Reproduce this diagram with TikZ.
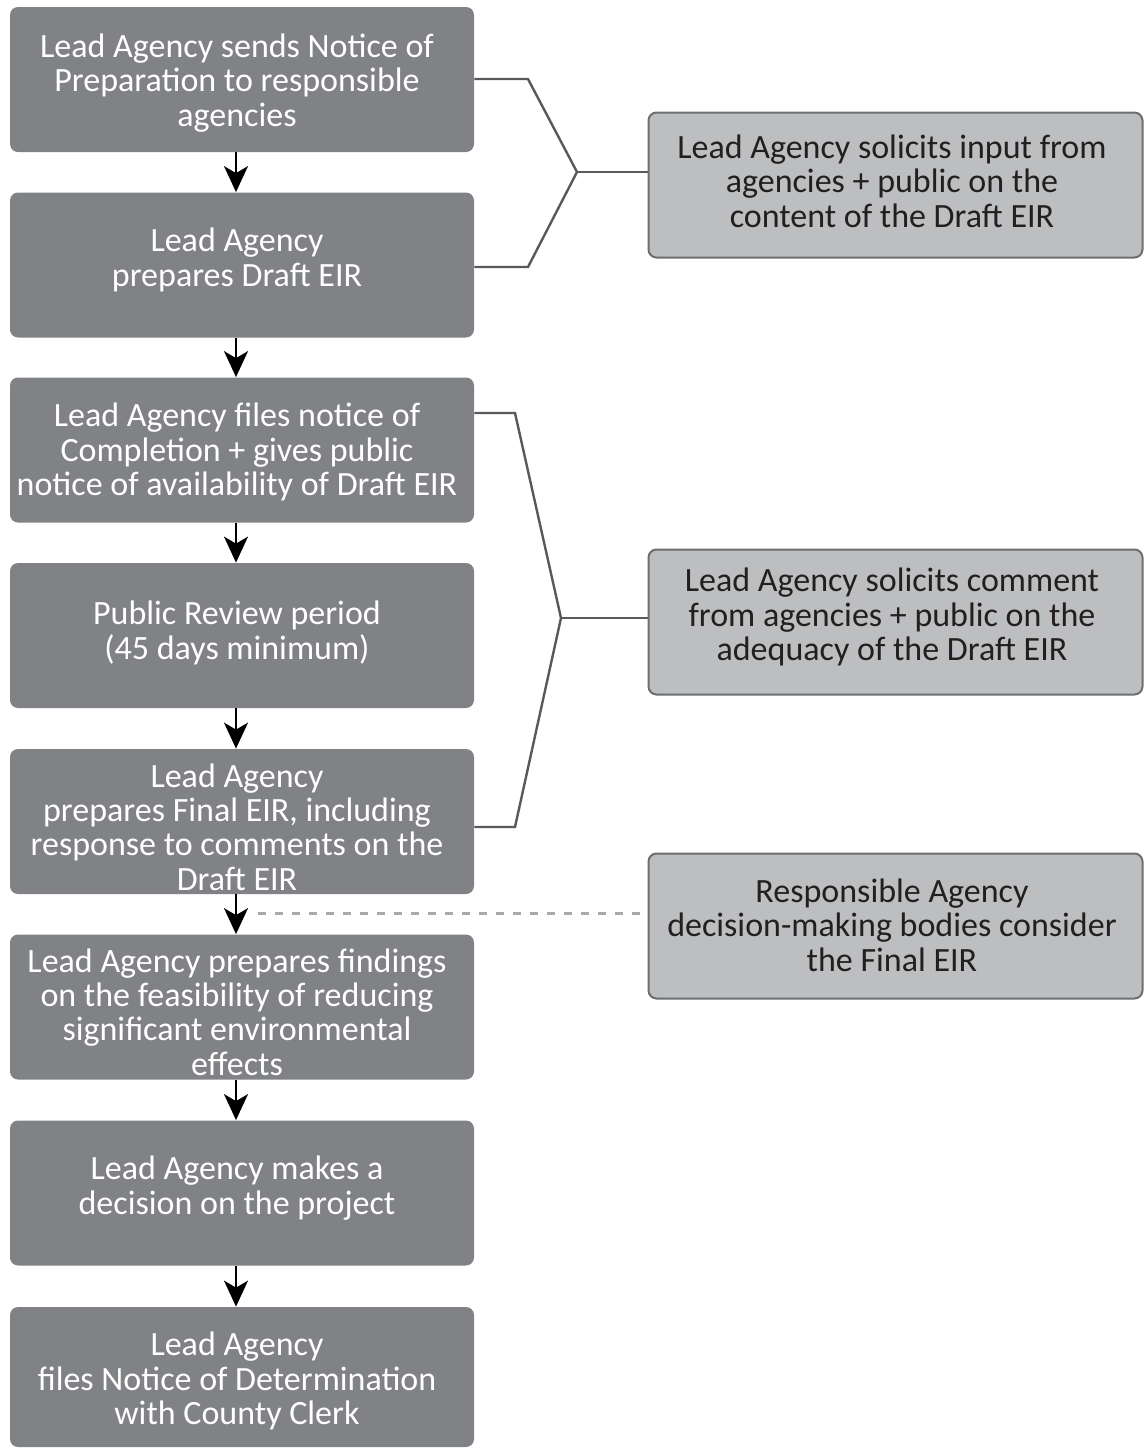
\documentclass[tikz,border=0pt]{standalone}
\usepackage{fontspec}
\setmainfont{Carlito}
\usetikzlibrary{arrows.meta}
\definecolor{mainfill}{HTML}{808285}
\definecolor{sidefill}{HTML}{BCBEC0}
\definecolor{sideedge}{HTML}{6D6E71}
\definecolor{linkgray}{HTML}{58595B}
\definecolor{dashgray}{HTML}{A7A9AC}
\definecolor{sidetext}{HTML}{231F20}
\begin{document}
\begin{tikzpicture}[x=0.5pt,y=-0.5pt,
  mainbox/.style={fill=mainfill, rounded corners=4pt, minimum width=232pt, minimum height=72.5pt, inner sep=0pt},
  sidebox/.style={fill=sidefill, draw=sideedge, line width=1pt, rounded corners=4pt, minimum width=247pt, minimum height=72.5pt, inner sep=0pt},
  maintext/.style={text=white, align=center, font=\fontsize{17pt}{17.2pt}\selectfont, inner sep=0pt},
  sidetextstyle/.style={text=sidetext, align=center, font=\fontsize{17pt}{17.2pt}\selectfont, inner sep=0pt},
  flow/.style={draw=black, line width=1pt, -{Stealth[length=13pt, width=12pt, inset=3.5pt]}},
  bracket/.style={draw=linkgray, line width=1.2pt, line join=miter},
  dashlink/.style={draw=dashgray, line width=1.5pt, dash pattern=on 4pt off 4.5pt}
]
\useasboundingbox (0,0) rectangle (1145,1448);

% main column boxes
\node[mainbox] (b1) at (242,79.5) {};
\node[mainbox] (b2) at (242,265) {};
\node[mainbox] (b3) at (242,450) {};
\node[mainbox] (b4) at (242,635.5) {};
\node[mainbox] (b5) at (242,821.5) {};
\node[mainbox] (b6) at (242,1007) {};
\node[mainbox] (b7) at (242,1193) {};
\node[mainbox, minimum height=70pt] (b8) at (242,1377) {};

\node[maintext] (t1) at (237,83) {Lead Agency sends Notice of\\Preparation to responsible\\agencies};
\node[maintext] (t2) at (237,260) {Lead Agency\\prepares Draft EIR};
\node[maintext] (t3) at (237,452) {Lead Agency files notice of\\Completion + gives public\\notice of availability of Draft EIR};
\node[maintext] (t4) at (237,633) {Public Review period\\(45 days minimum)};
\node[maintext] (t5) at (237,827) {Lead Agency\\prepares Final EIR, including\\response to comments on the\\Draft EIR};
\node[maintext] (t6) at (237,1012) {Lead Agency prepares findings\\on the feasibility of reducing\\significant environmental\\effects};
\node[maintext] (t7) at (237,1188) {Lead Agency makes a\\decision on the project};
\node[maintext] (t8) at (237,1381) {Lead Agency\\files Notice of Determination\\with County Clerk};

% side boxes
\node[sidebox] (sA) at (895.5,185) {};
\node[sidebox] (sB) at (895.5,622) {};
\node[sidebox] (sC) at (895.5,926) {};
\node[sidetextstyle] (tA) at (892,181) {Lead Agency solicits input from\\agencies + public on the\\content of the Draft EIR};
\node[sidetextstyle] (tB) at (892,617) {Lead Agency solicits comment\\from agencies + public on the\\adequacy of the Draft EIR};
\node[sidetextstyle] (tC) at (892,925) {Responsible Agency\\decision-making bodies consider\\the Final EIR};

% flow arrows
\foreach \a/\b in {b1/b2,b2/b3,b3/b4,b4/b5,b5/b6,b6/b7,b7/b8}
  \draw[flow] ([xshift=-3pt]\a.south) -- ([xshift=-3pt]\b.north);

% brackets
\coordinate (k1) at (577,172);
\coordinate (k2) at (561,618);
\draw[bracket] (b1.east |- 0,79) -- (528,79) -- (k1) -- (528,267) -- (b2.east |- 0,267);
\draw[bracket] (k1) -- (sA.west |- k1);
\draw[bracket] (b3.east |- 0,413) -- (515,413) -- (k2) -- (515,827) -- (b5.east |- 0,827);
\draw[bracket] (k2) -- (sB.west |- k2);

% dashed link
\coordinate (d0) at (258,913);
\draw[dashlink] (d0) -- (sC.west |- d0);
\end{tikzpicture}
\end{document}
